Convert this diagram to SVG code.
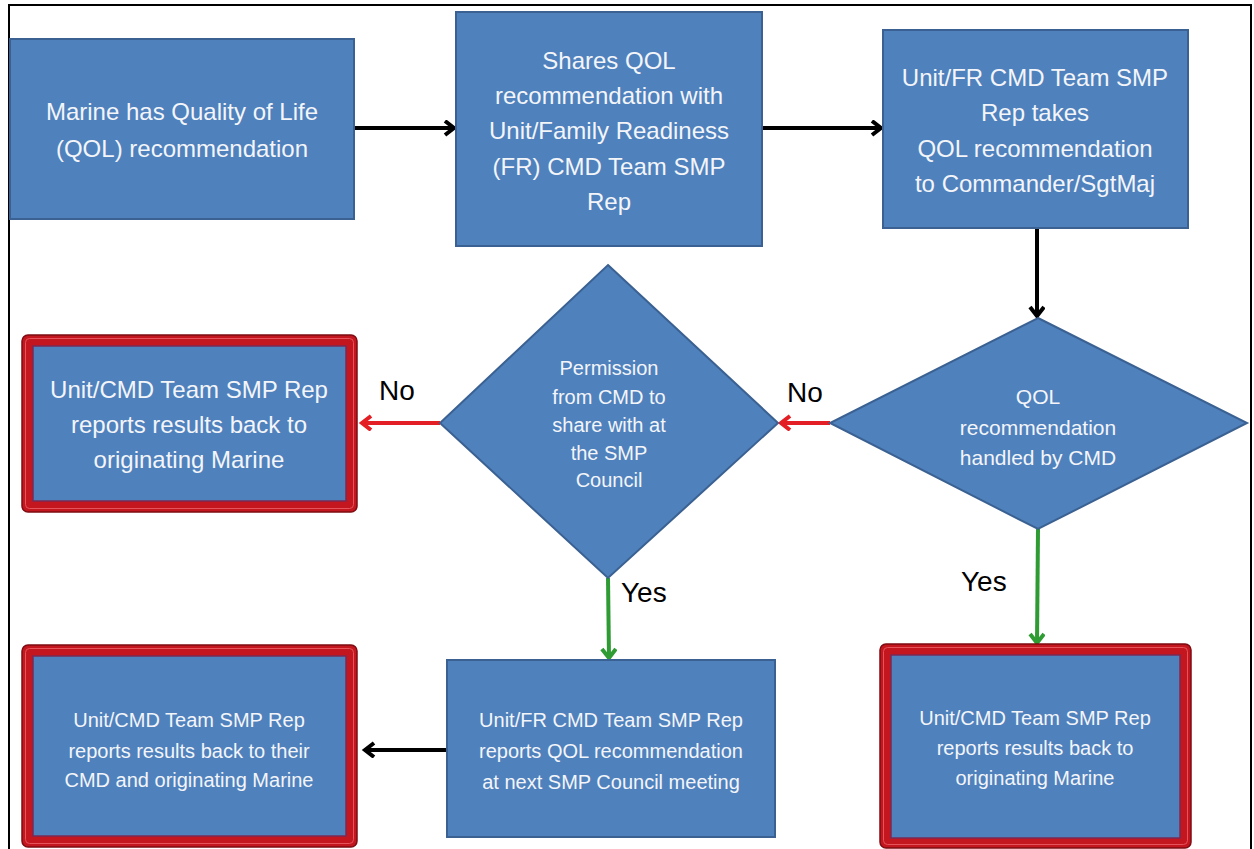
<svg xmlns="http://www.w3.org/2000/svg" width="1254" height="849" viewBox="0 0 1254 849">
<defs>
<style>
.box{fill:#4F81BD;stroke:#3A6191;stroke-width:2}
.rout{fill:#C3161F;stroke:#7E0C12;stroke-width:1.5}
.rmid{fill:none;stroke:#E5545B;stroke-width:1}
.rin{fill:#4F81BD;stroke:#7A2A55;stroke-width:1.5}
.t{font-family:"Liberation Sans",Arial,sans-serif;fill:#F3F5F9;text-anchor:middle}
.t24{font-size:24px}
.t21{font-size:21px}
.t20{font-size:20px}
.lbl{font-family:"Liberation Sans",Arial,sans-serif;font-size:28px;fill:#000}
.cb{fill:none;stroke:#000;stroke-width:4}
.cr{fill:none;stroke:#E31E24;stroke-width:4}
.cg{fill:none;stroke:#2E9B33;stroke-width:4}
</style>
<marker id="ab" markerUnits="userSpaceOnUse" markerWidth="16" markerHeight="18" refX="11" refY="8" orient="auto">
<path d="M2,1 L11,8 L2,15" fill="none" stroke="#000" stroke-width="4"/>
</marker>
<marker id="ar" markerUnits="userSpaceOnUse" markerWidth="16" markerHeight="18" refX="11" refY="8" orient="auto">
<path d="M2,1 L11,8 L2,15" fill="none" stroke="#E31E24" stroke-width="4"/>
</marker>
<marker id="ag" markerUnits="userSpaceOnUse" markerWidth="16" markerHeight="18" refX="11" refY="8" orient="auto">
<path d="M2,1 L11,8 L2,15" fill="none" stroke="#2E9B33" stroke-width="4"/>
</marker>
</defs>
<rect x="0" y="0" width="1254" height="849" fill="#fff"/>
<rect x="9" y="5" width="1242" height="860" fill="none" stroke="#000" stroke-width="2"/>

<g id="connectors">
<line class="cb" x1="354" y1="128" x2="454" y2="128" marker-end="url(#ab)"/>
<line class="cb" x1="762" y1="128" x2="881" y2="128" marker-end="url(#ab)"/>
<line class="cb" x1="1037" y1="228" x2="1037" y2="316" marker-end="url(#ab)"/>
<line class="cr" x1="830" y1="423" x2="781" y2="423" marker-end="url(#ar)"/>
<line class="cr" x1="440" y1="423" x2="362" y2="423" marker-end="url(#ar)"/>
<line class="cg" x1="608" y1="578" x2="609" y2="658" marker-end="url(#ag)"/>
<line class="cg" x1="1038" y1="529" x2="1037" y2="643" marker-end="url(#ag)"/>
<line class="cb" x1="447" y1="750" x2="365" y2="750" marker-end="url(#ab)"/>
<text class="lbl" x="379" y="400">No</text>
<text class="lbl" x="787" y="402">No</text>
<text class="lbl" x="621" y="602">Yes</text>
<text class="lbl" x="961" y="591">Yes</text>
</g>

<g id="n1">
<rect class="box" x="10" y="39" width="344" height="180"/>
<text class="t t24" x="182" y="120">Marine has Quality of Life</text>
<text class="t t24" x="182" y="157">(QOL) recommendation</text>
</g>

<g id="n2">
<rect class="box" x="456" y="12" width="306" height="234"/>
<text class="t t24" x="609" y="69">Shares QOL</text>
<text class="t t24" x="609" y="104">recommendation with</text>
<text class="t t24" x="609" y="139">Unit/Family Readiness</text>
<text class="t t24" x="609" y="175">(FR) CMD Team SMP</text>
<text class="t t24" x="609" y="210">Rep</text>
</g>

<g id="n3">
<rect class="box" x="883" y="30" width="305" height="198"/>
<text class="t t24" x="1035" y="86">Unit/FR CMD Team SMP</text>
<text class="t t24" x="1035" y="121">Rep takes</text>
<text class="t t24" x="1035" y="157">QOL recommendation</text>
<text class="t t24" x="1035" y="192">to Commander/SgtMaj</text>
</g>

<g id="d1">
<polygon class="box" points="1038,318 1247,423 1038,529 830,423"/>
<text class="t t21" x="1038" y="404">QOL</text>
<text class="t t21" x="1038" y="435">recommendation</text>
<text class="t t21" x="1038" y="465">handled by CMD</text>
</g>

<g id="d2">
<polygon class="box" points="608,265 778,423 608,578 440,423"/>
<text class="t t20" x="609" y="375">Permission</text>
<text class="t t20" x="609" y="404">from CMD to</text>
<text class="t t20" x="609" y="432">share with at</text>
<text class="t t20" x="609" y="460">the SMP</text>
<text class="t t20" x="609" y="487">Council</text>
</g>

<g id="r1">
<rect class="rout" x="22" y="335" width="335" height="177" rx="6"/>
<rect class="rmid" x="25.5" y="338.5" width="328" height="170" rx="4"/>
<rect class="rin" x="33" y="346" width="313" height="155"/>
<text class="t t24" x="189" y="398">Unit/CMD Team SMP Rep</text>
<text class="t t24" x="189" y="433">reports results back to</text>
<text class="t t24" x="189" y="468">originating Marine</text>
</g>

<g id="n4">
<rect class="box" x="447" y="660" width="328" height="177"/>
<text class="t t20" x="611" y="727">Unit/FR CMD Team SMP Rep</text>
<text class="t t20" x="611" y="758">reports QOL recommendation</text>
<text class="t t20" x="611" y="789">at next SMP Council meeting</text>
</g>

<g id="r2">
<rect class="rout" x="22" y="645" width="335" height="202" rx="6"/>
<rect class="rmid" x="25.5" y="648.5" width="328" height="195" rx="4"/>
<rect class="rin" x="33" y="656" width="313" height="180"/>
<text class="t t20" x="189" y="727">Unit/CMD Team SMP Rep</text>
<text class="t t20" x="189" y="758">reports results back to their</text>
<text class="t t20" x="189" y="787">CMD and originating Marine</text>
</g>

<g id="r3">
<rect class="rout" x="880" y="644" width="311" height="204" rx="6"/>
<rect class="rmid" x="883.5" y="647.5" width="304" height="197" rx="4"/>
<rect class="rin" x="891" y="655" width="289" height="183"/>
<text class="t t20" x="1035" y="725">Unit/CMD Team SMP Rep</text>
<text class="t t20" x="1035" y="755">reports results back to</text>
<text class="t t20" x="1035" y="785">originating Marine</text>
</g>
</svg>
